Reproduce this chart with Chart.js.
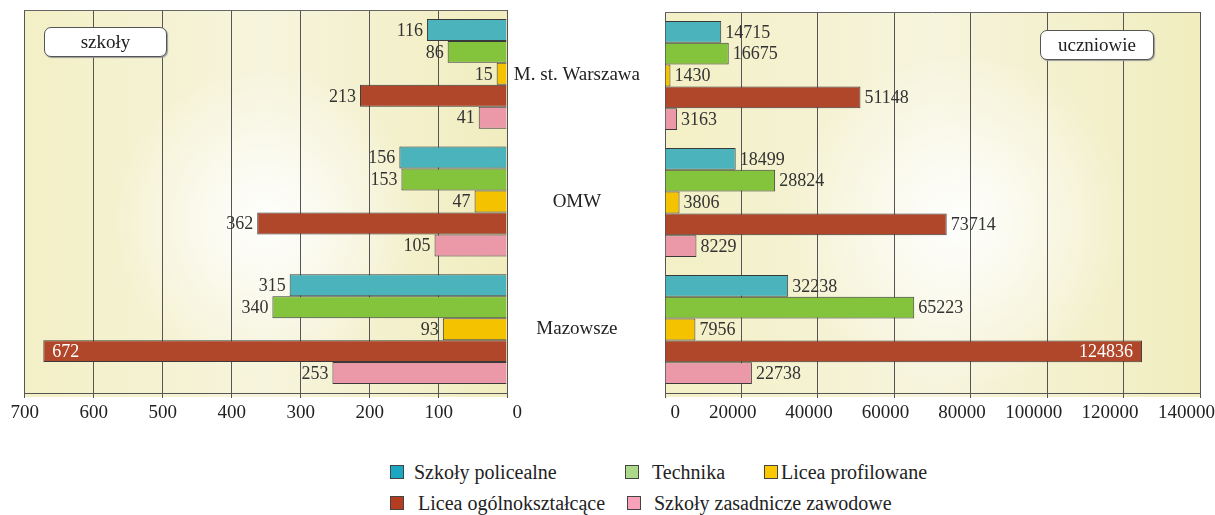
<!DOCTYPE html>
<html lang="pl">
<head>
<meta charset="UTF-8">
<title>Szkoły i uczniowie</title>
<script src="https://cdn.jsdelivr.net/npm/chart.js"></script>
<style>
    body { margin: 0; width: 1215px; height: 515px; background: #fff; position: relative; overflow: hidden;
           font-family: "Liberation Serif", serif; color: #222; }
    #leftChart { position: absolute; left: 0; top: 0; }
    #rightChart { position: absolute; left: 507px; top: 0; }
    .tag { position: absolute; background: #fff; border: 1px solid #555; border-radius: 7px; font-size: 19px;
           text-align: center; box-shadow: 1px 1px 1px #999; line-height: 28px; }
    .lg { position: absolute; font-size: 20px; line-height: 22px; white-space: nowrap; }
    .sw { position: absolute; width: 12px; height: 12px; border: 1px solid #444; }
</style>
</head>
<body>
<canvas id="leftChart" width="530" height="434"></canvas>
<canvas id="rightChart" width="708" height="434"></canvas>

<div class="tag" style="left:44px; top:27px; width:121px; height:28px;">szkoły</div>
<div class="tag" style="left:1040px; top:30px; width:112px; height:28px;">uczniowie</div>

<div id="legend"></div>

<script>
// categories (top to bottom)
const categories = ['M. st. Warszawa', 'OMW', 'Mazowsze'];
const seriesNames = ['Szkoły policealne', 'Technika', 'Licea profilowane', 'Licea ogólnokształcące', 'Szkoły zasadnicze zawodowe'];

// number of schools
const szkolyPolicealne = [116, 156, 315];
const szkolyTechnika = [86, 153, 340];
const szkolyProfilowane = [15, 47, 93];
const szkolyOgolnoksztalcace = [213, 362, 672];
const szkolyZasadnicze = [41, 105, 253];

// number of students
const uczniowiePolicealne = [14715, 18499, 32238];
const uczniowieTechnika = [16675, 28824, 65223];
const uczniowieProfilowane = [1430, 3806, 7956];
const uczniowieOgolnoksztalcace = [51148, 73714, 124836];
const uczniowieZasadnicze = [3163, 8229, 22738];

const barColors = ['#4ab3bb', '#83c43c', '#f5c200', '#b0462a', '#eb99a8'];
const legendColors = ['#1ba8c4', '#acd98a', '#fcc800', '#b33d1e', '#f7a1bb'];

const FONT = '"Liberation Serif", serif';

function makeSets(arrays) {
    return arrays.map((d, i) => ({
        label: seriesNames[i],
        data: d,
        backgroundColor: barColors[i],
        borderColor: '#3a3a3a',
        borderWidth: 1,
        categoryPercentage: 0.86,
        barPercentage: 1.0
    }));
}

// plot background: yellowish with a light glow
const plotBg = {
    id: 'plotBg',
    beforeDraw(chart, args, opts) {
        const { ctx, chartArea: a } = chart;
        ctx.save();
        const lin = ctx.createLinearGradient(a.left, 0, a.right, 0);
        lin.addColorStop(0, '#f3f0c6');
        lin.addColorStop(0.5, '#f6f4dc');
        lin.addColorStop(1, '#f1edbf');
        ctx.fillStyle = lin;
        ctx.fillRect(a.left, a.top, a.width, a.height + 4);
        const cx = a.left + a.width * opts.cx, cy = a.top + a.height * 0.55;
        const rad = ctx.createRadialGradient(cx, cy, 0, cx, cy, a.width * 0.32);
        rad.addColorStop(0, 'rgba(255,255,255,0.95)');
        rad.addColorStop(1, 'rgba(255,255,255,0)');
        ctx.fillStyle = rad;
        ctx.fillRect(a.left, a.top, a.width, a.height + 4);
        ctx.restore();
    },
    afterDraw(chart) {
        const { ctx, chartArea: a } = chart;
        ctx.save();
        ctx.strokeStyle = '#666';
        ctx.lineWidth = 1;
        ctx.beginPath();
        ctx.moveTo(a.left, a.top + 0.5);
        ctx.lineTo(a.right, a.top + 0.5);
        ctx.stroke();
        ctx.restore();
    }
};

// value labels at the end of each bar
const valueLabels = {
    id: 'valueLabels',
    afterDatasetsDraw(chart, args, opts) {
        const { ctx, chartArea: a } = chart;
        ctx.save();
        ctx.font = '18px ' + FONT;
        ctx.textBaseline = 'middle';
        chart.data.datasets.forEach((ds, i) => {
            chart.getDatasetMeta(i).data.forEach((bar, j) => {
                const txt = String(ds.data[j]);
                const w = ctx.measureText(txt).width;
                const dir = opts.reverse ? -1 : 1;
                const room = opts.reverse ? bar.x - a.left : a.right - bar.x;
                let x = bar.x + dir * 4;
                let align = opts.reverse ? 'right' : 'left';
                let color = '#333';
                if (room < w + 12) {
                    x = bar.x - dir * 9;
                    align = opts.reverse ? 'left' : 'right';
                    color = '#fff';
                }
                ctx.textAlign = align;
                ctx.fillStyle = color;
                ctx.fillText(txt, x, bar.y + 1);
            });
        });
        ctx.restore();
    }
};

const tickFont = { family: FONT, size: 19 };

new Chart(document.getElementById('leftChart'), {
    type: 'bar',
    data: {
        labels: categories,
        datasets: makeSets([szkolyPolicealne, szkolyTechnika, szkolyProfilowane, szkolyOgolnoksztalcace, szkolyZasadnicze])
    },
    options: {
        indexAxis: 'y',
        responsive: false,
        animation: false,
        layout: { padding: { left: 24, right: 23, top: 10, bottom: 0 } },
        plugins: {
            legend: { display: false },
            tooltip: { enabled: false },
            plotBg: { cx: 0.5 },
            valueLabels: { reverse: true }
        },
        scales: {
            x: {
                reverse: true,
                min: 0,
                max: 700,
                ticks: { stepSize: 100, color: '#222', font: tickFont, padding: 4, align: 'end', labelOffset: 15 },
                grid: { color: '#555', tickLength: 5 },
                border: { color: '#555' },
                afterFit(s) { s.height = 41; s.paddingLeft = 0; s.paddingRight = 0; }
            },
            y: { display: false }
        }
    },
    plugins: [plotBg, valueLabels]
});

new Chart(document.getElementById('rightChart'), {
    type: 'bar',
    data: {
        labels: categories,
        datasets: makeSets([uczniowiePolicealne, uczniowieTechnika, uczniowieProfilowane, uczniowieOgolnoksztalcace, uczniowieZasadnicze])
    },
    options: {
        indexAxis: 'y',
        responsive: false,
        animation: false,
        layout: { padding: { left: 0, right: 15, top: 12, bottom: 0 } },
        plugins: {
            legend: { display: false },
            tooltip: { enabled: false },
            plotBg: { cx: 0.55 },
            valueLabels: { reverse: false }
        },
        scales: {
            x: {
                min: 0,
                max: 140000,
                ticks: { stepSize: 20000, color: '#222', font: tickFont, padding: 4, align: 'end', labelOffset: 15,
                         callback: v => String(v) },
                grid: { color: '#555', tickLength: 5 },
                border: { color: '#555' },
                afterFit(s) { s.height = 41; s.paddingLeft = 0; s.paddingRight = 0; }
            },
            y: {
                position: 'left',
                grid: { display: false },
                border: { color: '#555' },
                ticks: { crossAlign: 'center', padding: 17, color: '#222', font: { family: FONT, size: 19 } },
                afterFit(s) { s.width = 158; s.paddingTop = 0; s.paddingBottom = 0; }
            }
        }
    },
    plugins: [plotBg, valueLabels]
});

// legend (two rows under both charts)
const legendPos = [
    { sx: 390, tx: 414, y: 461 },
    { sx: 625, tx: 652, y: 461 },
    { sx: 764, tx: 781, y: 461 },
    { sx: 390, tx: 418, y: 492 },
    { sx: 627, tx: 654, y: 492 }
];
const legend = document.getElementById('legend');
seriesNames.forEach((name, i) => {
    const p = legendPos[i];
    const sw = document.createElement('span');
    sw.className = 'sw';
    sw.style.left = p.sx + 'px';
    sw.style.top = (p.y + 4) + 'px';
    sw.style.background = legendColors[i];
    legend.appendChild(sw);
    const t = document.createElement('span');
    t.className = 'lg';
    t.style.left = p.tx + 'px';
    t.style.top = p.y + 'px';
    t.textContent = name;
    legend.appendChild(t);
});
</script>
</body>
</html>
